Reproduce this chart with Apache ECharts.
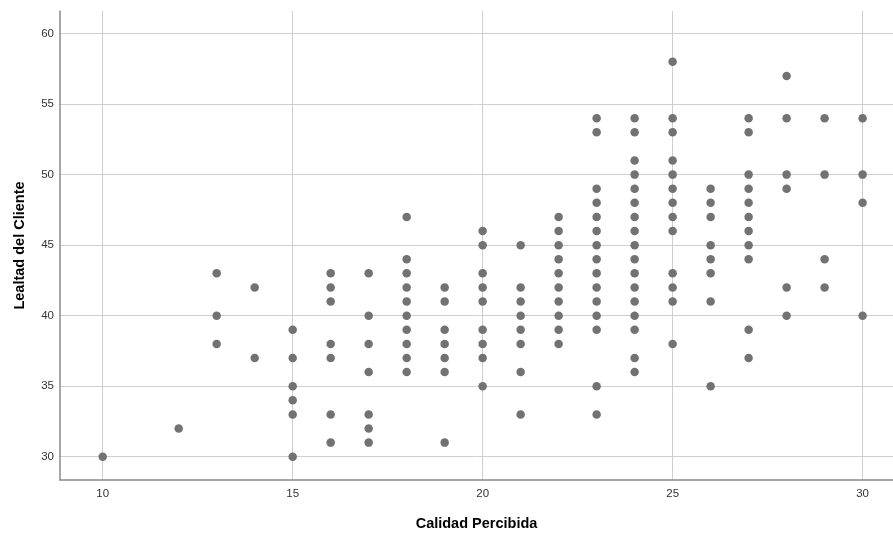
<!DOCTYPE html>
<html>
<head>
<meta charset="utf-8">
<script src="https://cdn.jsdelivr.net/npm/echarts@6/dist/echarts.min.js"></script>
<style>
html,body{margin:0;padding:0;background:#fff;}
#chart{width:893px;height:533px;}
</style>
</head>
<body>
<div id="chart"></div>
<script>
// Calidad Percibida (x) values and Lealtad del Cliente (y) values, one array per x column
const calidadValues = [10, 12, 13, 14, 15, 16, 17, 18, 19, 20, 21, 22, 23, 24, 25, 26, 27, 28, 29, 30];
const lealtadByCalidad = [
  [30],
  [32],
  [43, 40, 38],
  [42, 37],
  [39, 37, 35, 34, 33, 30],
  [43, 42, 41, 38, 37, 33, 31],
  [43, 40, 38, 36, 33, 32, 31],
  [47, 44, 43, 42, 41, 40, 39, 38, 37, 36],
  [42, 41, 39, 38, 37, 36, 31],
  [46, 45, 43, 42, 41, 39, 38, 37, 35],
  [45, 42, 41, 40, 39, 38, 36, 33],
  [47, 46, 45, 44, 43, 42, 41, 40, 39, 38],
  [54, 53, 49, 48, 47, 46, 45, 44, 43, 42, 41, 40, 39, 35, 33],
  [54, 53, 51, 50, 49, 48, 47, 46, 45, 44, 43, 42, 41, 40, 39, 37, 36],
  [58, 54, 53, 51, 50, 49, 48, 47, 46, 43, 42, 41, 38],
  [49, 48, 47, 45, 44, 43, 41, 35],
  [54, 53, 50, 49, 48, 47, 46, 45, 44, 39, 37],
  [57, 54, 50, 49, 42, 40],
  [54, 50, 44, 42],
  [54, 50, 48, 40]
];
const xTicks = [10, 15, 20, 25, 30];
const yTicks = [30, 35, 40, 45, 50, 55, 60];
const xTitle = 'Calidad Percibida';
const yTitle = 'Lealtad del Cliente';

const points = [];
calidadValues.forEach((x, i) => {
  lealtadByCalidad[i].forEach(y => points.push([x, y]));
});

const chart = echarts.init(document.getElementById('chart'), null, {renderer: 'canvas'});
const gridColor = '#cfcfcf';
const axisColor = '#8a8a8a';
chart.setOption({
  animation: false,
  backgroundColor: '#ffffff',
  grid: {left: 60, right: 0, top: 11, bottom: 53, containLabel: false, outerBoundsMode: 'none'},
  xAxis: {
    type: 'value',
    min: 8.876,
    max: 30.8,
    name: xTitle,
    nameLocation: 'middle',
    nameGap: 36,
    nameTextStyle: {fontFamily: 'Liberation Sans, Arial, sans-serif', fontSize: 14.5, fontWeight: 'bold', color: '#000'},
    axisLine: {show: true, onZero: false, lineStyle: {color: axisColor, width: 1.5}},
    axisTick: {show: false, customValues: xTicks},
    axisLabel: {customValues: xTicks, fontFamily: 'Liberation Sans, Arial, sans-serif', fontSize: 11.5, color: '#333', margin: 8},
    splitLine: {show: true, lineStyle: {color: gridColor, width: 1}}
  },
  yAxis: {
    type: 'value',
    min: 28.35,
    max: 61.6,
    name: yTitle,
    nameLocation: 'middle',
    nameGap: 33,
    nameRotate: 90,
    nameTextStyle: {fontFamily: 'Liberation Sans, Arial, sans-serif', fontSize: 14.5, fontWeight: 'bold', color: '#000'},
    axisLine: {show: true, onZero: false, lineStyle: {color: axisColor, width: 1.5}},
    axisTick: {show: false, customValues: yTicks},
    axisLabel: {customValues: yTicks, fontFamily: 'Liberation Sans, Arial, sans-serif', fontSize: 11.5, color: '#333', margin: 6},
    splitLine: {show: true, lineStyle: {color: gridColor, width: 1}}
  },
  series: [{
    type: 'scatter',
    data: points,
    symbol: 'circle',
    symbolSize: 8.5,
    itemStyle: {color: '#727272', opacity: 1},
    silent: true
  }]
});
</script>
</body>
</html>
